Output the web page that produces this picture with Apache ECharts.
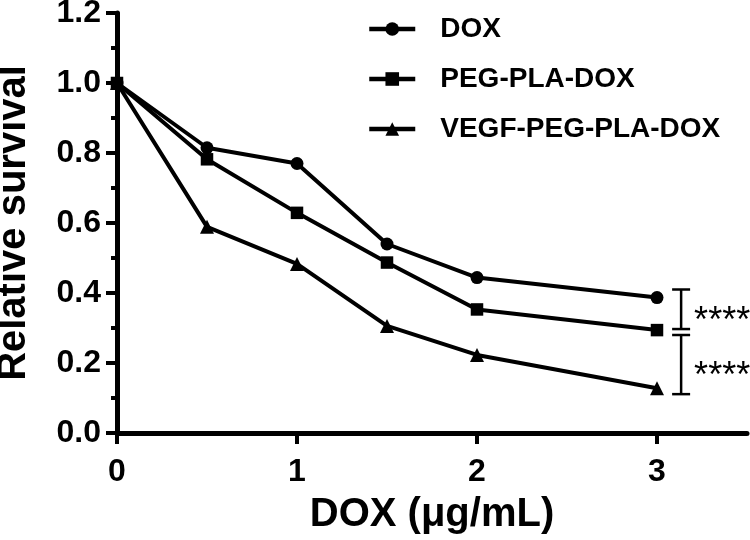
<!DOCTYPE html>
<html>
<head>
<meta charset="utf-8">
<script src="https://cdn.jsdelivr.net/npm/echarts@6/dist/echarts.min.js"></script>
<style>html,body{margin:0;padding:0;background:#fff}#c{width:750px;height:540px}</style>
</head>
<body>
<div id="c"></div>
<script>
var doses = [0, 0.5, 1, 1.5, 2, 3];
var seriesNames = ['DOX', 'PEG-PLA-DOX', 'VEGF-PEG-PLA-DOX'];
var doxValues = [1.0, 0.815, 0.770, 0.540, 0.444, 0.387];
var pegValues = [1.0, 0.782, 0.629, 0.487, 0.353, 0.294];
var vegfValues = [1.0, 0.589, 0.483, 0.306, 0.223, 0.128];
var xTicks = [0, 1, 2, 3];
var bracketX = 3.134;
var brackets = [[0.297, 0.41], [0.111, 0.28]];
var bracketLabels = ['****', '****'];

function pairs(vals) { return doses.map(function (d, i) { return [d, vals[i]]; }); }

var font = 'Liberation Sans, Arial, sans-serif';
var lineCommon = { type: 'line', lineStyle: { color: '#000', width: 4 }, itemStyle: { color: '#000' }, z: 3 };

var chart = echarts.init(document.getElementById('c'));
chart.setOption({
  animation: false,
  backgroundColor: '#fff',
  grid: { left: 117, right: 3, top: 13, bottom: 107, containLabel: false, outerBoundsMode: 'none' },
  legend: {
    data: seriesNames,
    orient: 'vertical',
    left: 367, top: 15, padding: 0,
    itemWidth: 46, itemHeight: 17, itemGap: 22,
    lineStyle: { width: 4.5 },
    textStyle: { fontFamily: font, fontWeight: 'bold', fontSize: 28, color: '#000', padding: [0, 0, 0, 20] }
  },
  xAxis: {
    type: 'value', min: 0, max: 3.5, interval: 1,
    name: 'DOX (μg/mL)', nameLocation: 'middle', nameGap: 62,
    nameTextStyle: { fontFamily: font, fontWeight: 'bold', fontSize: 40, color: '#000' },
    axisLine: { lineStyle: { color: '#000', width: 5 } },
    axisTick: { customValues: xTicks, length: 11, lineStyle: { color: '#000', width: 4 } },
    axisLabel: { customValues: xTicks, fontFamily: font, fontWeight: 'bold', fontSize: 32, color: '#000', margin: 23 },
    splitLine: { show: false }
  },
  yAxis: {
    type: 'value', min: 0, max: 1.2, interval: 0.2,
    name: 'Relative survival', nameLocation: 'middle', nameGap: 83,
    nameTextStyle: { fontFamily: font, fontWeight: 'bold', fontSize: 40, color: '#000' },
    axisLine: { show: true, lineStyle: { color: '#000', width: 5 } },
    axisTick: { show: true, length: 11, lineStyle: { color: '#000', width: 4 } },
    minorTick: { show: true, splitNumber: 2, length: 6, lineStyle: { color: '#000', width: 4 } },
    axisLabel: { fontFamily: font, fontWeight: 'bold', fontSize: 32, color: '#000', margin: 16,
      formatter: function (v) { return v.toFixed(1); } },
    splitLine: { show: false }
  },
  series: [
    Object.assign({ name: seriesNames[0], symbol: 'circle', symbolSize: 13, data: pairs(doxValues) }, lineCommon),
    Object.assign({ name: seriesNames[1], symbol: 'rect', symbolSize: 12.5, data: pairs(pegValues) }, lineCommon),
    Object.assign({ name: seriesNames[2], symbol: 'triangle', symbolSize: 14, data: pairs(vegfValues) }, lineCommon),
    {
      type: 'custom', silent: true, clip: false, z: 4,
      data: brackets.map(function (b, i) { return [bracketX, b[0], b[1], i]; }),
      renderItem: function (params, api) {
        var x = api.value(0), lo = api.value(1), hi = api.value(2), idx = api.value(3);
        var pLo = api.coord([x, lo]), pHi = api.coord([x, hi]);
        var cap = 9, st = { stroke: '#000', lineWidth: 2.5 };
        return {
          type: 'group',
          children: [
            { type: 'line', shape: { x1: pLo[0], y1: pLo[1], x2: pHi[0], y2: pHi[1] }, style: st },
            { type: 'line', shape: { x1: pLo[0] - cap, y1: pLo[1], x2: pLo[0] + cap, y2: pLo[1] }, style: st },
            { type: 'line', shape: { x1: pHi[0] - cap, y1: pHi[1], x2: pHi[0] + cap, y2: pHi[1] }, style: st },
            { type: 'text', style: { text: bracketLabels[idx], x: pLo[0] + 13, y: (pLo[1] + pHi[1]) / 2 + 13,
              fill: '#000', font: '36px ' + font, textAlign: 'left', textVerticalAlign: 'middle' } }
          ]
        };
      }
    }
  ]
});
</script>
</body>
</html>
